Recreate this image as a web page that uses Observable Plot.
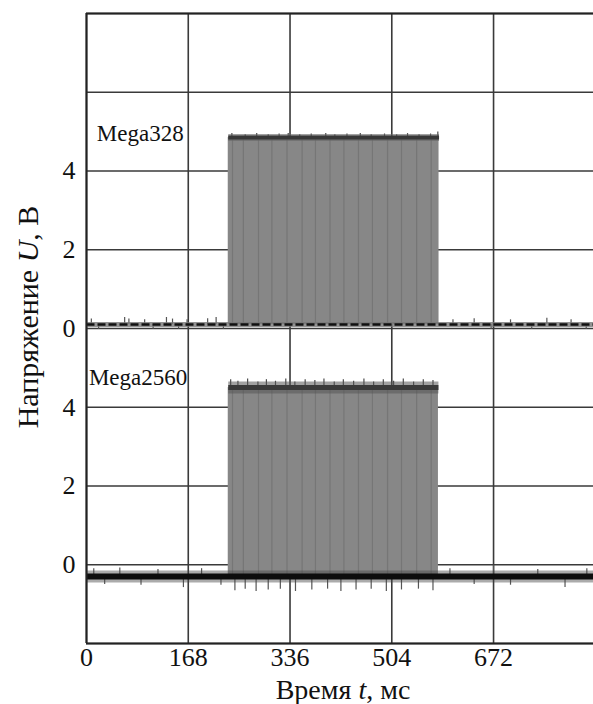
<!DOCTYPE html>
<html>
<head>
<meta charset="utf-8">
<script src="https://cdn.jsdelivr.net/npm/d3@7"></script>
<script src="https://cdn.jsdelivr.net/npm/@observablehq/plot@0.6"></script>
<style>
  html, body { margin: 0; padding: 0; background: #fff; overflow: hidden; }
  #chart svg { display: block; }
</style>
</head>
<body>
<div id="chart"></div>
<script>
// ---- data ----
const timeTicks = [0, 168, 336, 504, 672];               // ms
const timeDomain = [0, 837];
const voltGrid = [-2, 0, 2, 4, 6, 8, 10, 12, 14];         // screen divisions (V)
const voltTickValues = [0, 2, 4, 6, 8, 10];
const voltTickLabels = ["0", "2", "4", "0", "2", "4"];
const voltDomain = [-2, 14];

const channels = ["Mega328", "Mega2560"];
const channelOffset = [6, 0];          // oscilloscope trace offset, V
const burstStart = [234, 234];         // ms
const burstEnd = [582, 581];           // ms
const lowLevel = [0.1, -0.3];          // V
const highLevel = [4.85, 4.5];         // V
const labelTime = [17, 4];             // ms
const labelVolt = [4.95, 4.75];        // V (relative to trace)

// darker pulse stripes inside the burst, ms
const stripeTimes = [241, 259, 284, 306, 331, 356, 378, 402, 425, 449, 472, 497, 520, 545, 569];

// noise spikes on the top of the burst: [time ms, amplitude V]
const topSpikes328 = [[240,0.1],[262,0.07],[281,0.1],[300,0.07],[318,0.09],[333,0.1],[352,0.07],[371,0.09],[395,0.1],[410,0.07],[430,0.09],[452,0.1],[470,0.07],[492,0.09],[512,0.07],[530,0.1],[549,0.07],[568,0.09],[580,0.14]];
const topSpikes2560 = [[238,0.2],[250,0.16],[266,0.22],[283,0.14],[297,0.2],[312,0.16],[329,0.22],[344,0.14],[361,0.2],[377,0.18],[392,0.22],[409,0.14],[424,0.2],[441,0.16],[458,0.22],[474,0.14],[490,0.2],[507,0.16],[523,0.22],[540,0.14],[556,0.2],[572,0.18]];
// noise spikes on the baselines: [time ms, amplitude V]
const baseSpikes328 = [[8,0.14],[20,-0.12],[63,0.18],[70,0.14],[96,0.12],[110,-0.12],[132,0.18],[142,0.14],[152,-0.12],[166,0.12],[200,0.15],[214,0.18],[226,-0.12],[605,0.12],[640,0.15],[668,-0.12],[700,0.12],[735,-0.12],[760,0.16],[800,0.12],[825,-0.12]];
const baseSpikes2560 = [[12,0.2],[30,-0.2],[55,0.22],[90,-0.22],[118,0.18],[160,-0.28],[190,0.2],[222,-0.22],[245,-0.36],[262,-0.32],[280,-0.38],[300,-0.34],[320,-0.32],[345,-0.38],[372,-0.34],[398,-0.32],[420,-0.38],[445,-0.34],[470,-0.32],[495,-0.38],[520,-0.34],[548,-0.32],[572,-0.36],[600,0.2],[640,-0.2],[672,0.28],[700,-0.22],[745,0.18],[790,-0.28],[826,0.2]];

// ---- derived tables ----
const bursts = channels.map((c, i) => ({
  ch: c, x1: burstStart[i], x2: burstEnd[i],
  y1: lowLevel[i] + channelOffset[i], y2: highLevel[i] + channelOffset[i]
}));
const stripes = channels.flatMap((c, i) => stripeTimes.filter(t => t < burstEnd[i]).map(t => ({
  x: t, y1: lowLevel[i] + channelOffset[i], y2: highLevel[i] + channelOffset[i]
})));
const topEdges = channels.flatMap((c, i) => [
  {ch: c, x: burstStart[i], y: highLevel[i] + channelOffset[i]},
  {ch: c, x: burstEnd[i], y: highLevel[i] + channelOffset[i]}
]);
const baseLine = (i) => [
  {x: timeDomain[0], y: lowLevel[i] + channelOffset[i]},
  {x: timeDomain[1], y: lowLevel[i] + channelOffset[i]}
];
const spikesOf = (arr, level) => arr.map(([t, a]) => ({x: t, y1: level, y2: level + a}));
const topSpikes = [
  ...spikesOf(topSpikes328, highLevel[0] + channelOffset[0]),
  ...spikesOf(topSpikes2560, highLevel[1] + channelOffset[1])
];
const baseSpikes = [
  ...spikesOf(baseSpikes328, lowLevel[0] + channelOffset[0]),
  ...spikesOf(baseSpikes2560, lowLevel[1] + channelOffset[1])
];
const labels = channels.map((c, i) => ({text: c, x: labelTime[i], y: labelVolt[i] + channelOffset[i]}));

const W = 593, H = 704;
const lineOpts = {x: "x", y: "y", strokeLinecap: "butt"};
const chart = Plot.plot({
  width: W, height: H,
  marginLeft: 86, marginRight: 0, marginTop: 13, marginBottom: 61,
  style: {fontFamily: "'Liberation Serif', 'Times New Roman', serif", fontSize: "26px", color: "#111", background: "#fff"},
  x: {domain: timeDomain, ticks: timeTicks, tickSize: 0, tickPadding: 4, label: null, tickFormat: d => String(d)},
  y: {domain: voltDomain, ticks: voltTickValues, tickSize: 0, tickPadding: 11, label: null,
      tickFormat: v => voltTickLabels[voltTickValues.indexOf(v)]},
  marks: [
    Plot.ruleX(timeTicks, {stroke: "#3a3a3a", strokeWidth: 1.6}),
    Plot.ruleY(voltGrid, {stroke: "#3a3a3a", strokeWidth: 1.6}),
    Plot.rect(bursts, {x1: "x1", x2: "x2", y1: "y1", y2: "y2", fill: "#878787"}),
    Plot.ruleX(stripes, {x: "x", y1: "y1", y2: "y2", stroke: "#767676", strokeWidth: 1.2}),
    Plot.ruleX(topSpikes, {x: "x", y1: "y1", y2: "y2", stroke: "#4a4a4a", strokeWidth: 1.2}),
    Plot.line(topEdges.filter(d => d.ch === channels[0]), {...lineOpts, stroke: "#666", strokeWidth: 7, strokeOpacity: 0.6}),
    Plot.line(topEdges.filter(d => d.ch === channels[0]), {...lineOpts, stroke: "#383838", strokeWidth: 4}),
    Plot.line(topEdges.filter(d => d.ch === channels[1]), {...lineOpts, stroke: "#555", strokeWidth: 12, strokeOpacity: 0.55}),
    Plot.line(topEdges.filter(d => d.ch === channels[1]), {...lineOpts, stroke: "#3a3a3a", strokeWidth: 5}),
    Plot.ruleX(baseSpikes, {x: "x", y1: "y1", y2: "y2", stroke: "#555", strokeWidth: 1.2}),
    Plot.line(baseLine(0), {...lineOpts, stroke: "#777", strokeWidth: 5, strokeOpacity: 0.8}),
    Plot.line(baseLine(0), {...lineOpts, stroke: "#111", strokeWidth: 2.5, strokeDasharray: "8,3"}),
    Plot.line(baseLine(1), {...lineOpts, stroke: "#444", strokeWidth: 12, strokeOpacity: 0.45}),
    Plot.line(baseLine(1), {...lineOpts, stroke: "#0d0d0d", strokeWidth: 6}),
    Plot.ruleX([timeDomain[0]], {stroke: "#222", strokeWidth: 2}),
    Plot.ruleY([voltDomain[0], voltDomain[1]], {stroke: "#222", strokeWidth: 2}),
    Plot.text(labels, {x: "x", y: "y", text: "text", textAnchor: "start", fontSize: 23, fill: "#111"})
  ]
});

const svg = d3.select(chart);
svg.append("text")
  .attr("x", 343).attr("y", 699)
  .attr("text-anchor", "middle")
  .attr("font-size", 28).attr("fill", "#111")
  .call(t => {
    t.append("tspan").text("Время ");
    t.append("tspan").attr("font-style", "italic").text("t");
    t.append("tspan").text(", мс");
  });
svg.append("text")
  .attr("transform", "translate(38,317) rotate(-90)")
  .attr("text-anchor", "middle")
  .attr("font-size", 30).attr("fill", "#111")
  .call(t => {
    t.append("tspan").text("Напряжение ");
    t.append("tspan").attr("font-style", "italic").text("U");
    t.append("tspan").text(", В");
  });

document.getElementById("chart").appendChild(chart);
</script>
</body>
</html>
